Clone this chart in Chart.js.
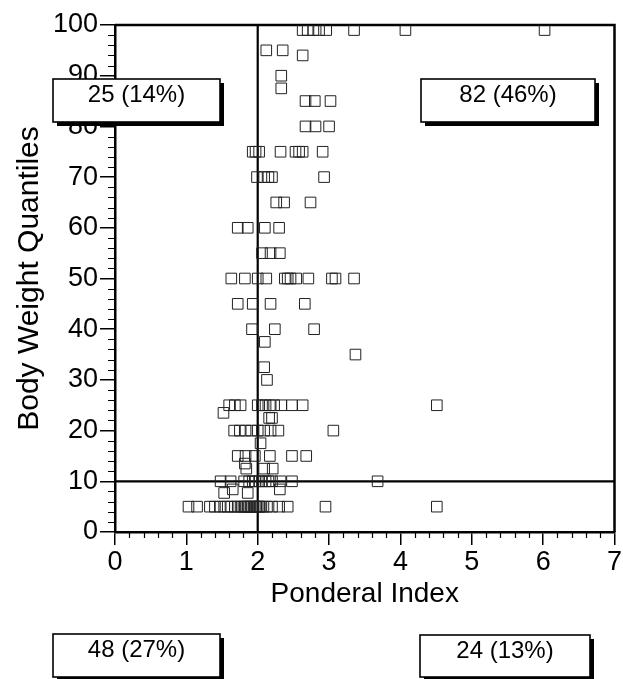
<!DOCTYPE html>
<html><head><meta charset="utf-8">
<script src="https://cdn.jsdelivr.net/npm/chart.js@4"></script>
<style>html,body{margin:0;padding:0;background:#fff;}canvas{display:block;}</style>
</head><body>
<canvas id="c" width="623" height="679"></canvas>
<script>
// ---- data ----
const xTicks = [0, 1, 2, 3, 4, 5, 6, 7];
const yTicks = [0, 10, 20, 30, 40, 50, 60, 70, 80, 90, 100];
const ponderalCutoff = 2;
const quantileCutoff = 10;
const quadrantLabels = ['25 (14%)', '82 (46%)', '48 (27%)', '24 (13%)'];

// body-weight quantile of each row of points
const rowQuantile = [99, 95, 94, 90, 87.5, 85, 80, 75, 70, 65, 60, 55, 50, 45, 40, 37.5, 35, 32.5, 30,
  25, 23.5, 22.5, 20, 17.5, 15, 13.5, 12.5, 10, 8.4, 7.7, 5];
// ponderal index values of the points in each row
const rowPonderal = [
  [2.63, 2.7, 2.78, 2.86, 2.96, 3.35, 4.07, 6.02],
  [2.12, 2.35],
  [2.63],
  [2.33],
  [2.33],
  [2.67, 2.8, 3.02],
  [2.67, 2.81, 3.0],
  [1.93, 1.97, 2.02, 2.32, 2.53, 2.58, 2.63, 2.91],
  [1.99, 2.09, 2.15, 2.2, 2.93],
  [2.26, 2.37, 2.74],
  [1.72, 1.86, 2.1, 2.3],
  [2.06, 2.18, 2.31],
  [1.63, 1.82, 2.0, 2.12, 2.38, 2.42, 2.46, 2.54, 2.71, 3.04, 3.09, 3.35],
  [1.72, 1.93, 2.18, 2.66],
  [1.92, 2.24, 2.79],
  [2.1],
  [3.37],
  [2.09],
  [2.13],
  [1.6, 1.68, 1.76, 2.0, 2.06, 2.11, 2.17, 2.23, 2.33, 2.48, 2.63, 4.51],
  [1.52],
  [2.16, 2.2],
  [1.67, 1.75, 1.83, 1.91, 2.0, 2.09, 2.18, 2.29, 3.06],
  [2.04],
  [1.72, 1.83, 1.96, 2.17, 2.48, 2.68],
  [1.82],
  [1.84, 2.09, 2.21],
  [1.48, 1.62, 1.81, 1.88, 1.93, 1.97, 2.02, 2.06, 2.11, 2.15, 2.2, 2.32, 2.48, 3.68],
  [1.65, 2.31],
  [1.53, 1.86],
  [1.03, 1.15, 1.33, 1.4, 1.47, 1.53, 1.58, 1.63, 1.68, 1.72, 1.76, 1.8, 1.82, 1.84, 1.86, 1.88, 1.9,
   1.92, 1.94, 1.96, 1.98, 2.0, 2.02, 2.04, 2.08, 2.13, 2.2, 2.3, 2.42, 2.95, 4.51]
];

const points = [];
rowQuantile.forEach((q, i) => rowPonderal[i].forEach(p => points.push({x: p, y: q})));

const FONT = '"Liberation Sans", Arial, Helvetica, sans-serif';

const overlay = {
  id: 'overlay',
  beforeDatasetsDraw(chart) {
    const {ctx, chartArea: a, scales: {x, y}} = chart;
    ctx.save();
    ctx.strokeStyle = '#000';
    // frame top & right
    ctx.lineWidth = 2.5;
    ctx.beginPath();
    ctx.moveTo(a.left, a.top); ctx.lineTo(a.right, a.top); ctx.lineTo(a.right, a.bottom);
    ctx.stroke();
    // cutoff lines
    ctx.lineWidth = 2.2;
    const px = x.getPixelForValue(ponderalCutoff);
    const py = y.getPixelForValue(quantileCutoff);
    ctx.beginPath();
    ctx.moveTo(px, a.top); ctx.lineTo(px, a.bottom);
    ctx.moveTo(a.left, py); ctx.lineTo(a.right, py);
    ctx.stroke();
    // minor ticks
    ctx.lineWidth = 1.2;
    ctx.beginPath();
    for (let v = 0; v <= 100.001; v += 2) {
      if (Math.abs(v % 10) < 1e-6) continue;
      const yy = Math.round(y.getPixelForValue(v)) + 0.5;
      ctx.moveTo(a.left - 7, yy); ctx.lineTo(a.left, yy);
    }
    for (let v = 0; v <= 7.001; v += 0.2) {
      const r = Math.abs(v - Math.round(v));
      if (r < 1e-6) continue;
      const xx = Math.round(x.getPixelForValue(v)) + 0.5;
      ctx.moveTo(xx, a.bottom); ctx.lineTo(xx, a.bottom + 6);
    }
    ctx.stroke();
    ctx.restore();
  },
  afterDraw(chart) {
    const {ctx} = chart;
    const boxes = [
      [53, 79, 167, 43],
      [421, 79, 174, 43],
      [53, 634, 167, 43],
      [420, 635, 170, 42]
    ];
    ctx.save();
    boxes.forEach((b, i) => {
      const [bx, by, bw, bh] = b;
      ctx.fillStyle = '#000';
      ctx.fillRect(bx + 4, by + 4, bw, bh);
      ctx.fillStyle = '#fff';
      ctx.fillRect(bx, by, bw, bh);
      ctx.strokeStyle = '#000';
      ctx.lineWidth = 1.6;
      ctx.strokeRect(bx, by, bw, bh);
      ctx.fillStyle = '#000';
      ctx.font = '24px ' + FONT;
      ctx.textAlign = 'center';
      ctx.textBaseline = 'middle';
      ctx.fillText(quadrantLabels[i], bx + bw / 2, by + 16);
    });
    ctx.restore();
  }
};

new Chart(document.getElementById('c'), {
  type: 'scatter',
  data: {
    datasets: [{
      data: points,
      pointStyle: 'rect',
      pointRadius: 7.5,
      pointHoverRadius: 7.5,
      borderWidth: 1,
      borderColor: '#222',
      backgroundColor: 'rgba(0,0,0,0)'
    }]
  },
  plugins: [overlay],
  options: {
    responsive: false,
    animation: false,
    devicePixelRatio: 1,
    events: [],
    layout: {padding: {left: 0, top: 25, right: 5, bottom: 57}},
    plugins: {legend: {display: false}, tooltip: {enabled: false}},
    scales: {
      x: {
        type: 'linear', min: 0, max: 7,
        afterBuildTicks(s) { s.ticks = xTicks.map(v => ({value: v})); },
        afterFit(s) { s.height = 90; s.paddingLeft = 0; s.paddingRight = 0; },
        ticks: {color: '#000', font: {family: FONT, size: 27}, padding: 1, maxRotation: 0, autoSkip: false},
        grid: {drawOnChartArea: false, drawTicks: true, tickLength: 13, color: '#000', lineWidth: 1.5},
        border: {display: true, color: '#000', width: 2.5},
        title: {display: true, text: 'Ponderal Index', color: '#000', font: {family: FONT, size: 28}, padding: {top: 0, bottom: 11}}
      },
      y: {
        type: 'linear', min: 0, max: 100,
        afterBuildTicks(s) { s.ticks = yTicks.map(v => ({value: v})); },
        afterFit(s) { s.width = 115; s.paddingTop = 0; s.paddingBottom = 0; },
        ticks: {color: '#000', font: {family: FONT, size: 27}, padding: 2, autoSkip: false},
        grid: {drawOnChartArea: false, drawTicks: true, tickLength: 15, color: '#000', lineWidth: 1.5},
        border: {display: true, color: '#000', width: 2.5},
        title: {display: true, text: 'Body Weight Quantiles', color: '#000', font: {family: FONT, size: 30}, padding: {top: 12, bottom: 0}}
      }
    }
  }
});
</script>
</body></html>
